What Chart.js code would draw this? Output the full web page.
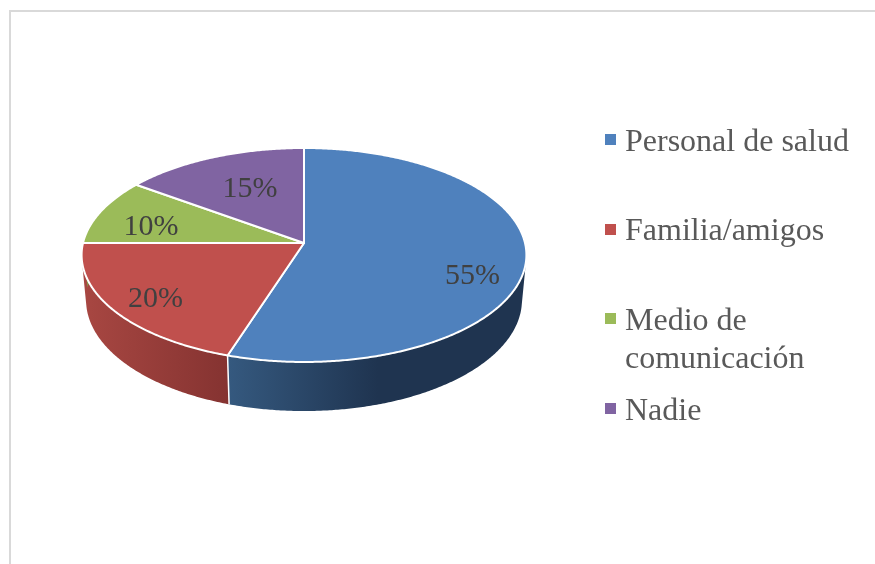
<!DOCTYPE html>
<html lang="es">
<head>
<meta charset="utf-8">
<title>Personal de salud</title>
<script src="https://cdn.jsdelivr.net/npm/chart.js@4"></script>
<style>
    html, body { margin: 0; padding: 0; background: #fff; overflow: hidden; }
    #frame { position: absolute; left: 9px; top: 10px; right: 0; bottom: 0; border-top: 2px solid #d9d9d9; border-left: 2px solid #d9d9d9; }
    #chart { position: absolute; left: 0; top: 0; }
</style>
</head>
<body>
<div id="frame"></div>
<canvas id="chart" width="875" height="564"></canvas>
<script>
const categories = ['Personal de salud', 'Familia/amigos', 'Medio de comunicación', 'Nadie'];
const shares = [55, 20, 10, 15];
const shareLabels = ['55%', '20%', '10%', '15%'];

const sliceColors = ['#4f81bd', '#c0504d', '#9bbb59', '#8064a2'];
const wallLeftColors = ['#35597f', '#a84742', '#7d9647', '#675083'];
const wallRightColors = ['#1f3450', '#853331', '#5f7236', '#4d3c62'];

// label spots, relative to the pie centre
const labelOffsets = [[168.5, 41], [-148.5, 64], [-153, -8], [-54, -46]];

// the pie is seen in perspective, so the circle from Chart.js gets projected
const tilt = 0.112;
const topFace = { sx: 1, sy: 0.478, dy: 0 };
const bottomFace = { sx: 0.98, sy: 0.496, dy: 44.6 };

const project = (arc, angle, face) => {
    const u = Math.cos(angle);
    const v = Math.sin(angle);
    const w = 1 - tilt * v;
    return {
        x: arc.x + arc.outerRadius * face.sx * u / w,
        y: arc.y + face.dy + arc.outerRadius * face.sy * v / w
    };
};

const STEP = Math.PI / 360;

const drawWall = (ctx, arc, i) => {
    const gradient = ctx.createLinearGradient(i === 0 ? 228 : 82, 0, i === 0 ? 378 : 228, 0);
    gradient.addColorStop(0, wallLeftColors[i]);
    gradient.addColorStop(1, wallRightColors[i]);
    ctx.fillStyle = gradient;

    // all quads go in one path, wound the same way, so no seams show
    ctx.beginPath();
    for (let a = arc.startAngle; a < arc.endAngle; a += STEP) {
        const b = Math.min(a + STEP, arc.endAngle);
        const quad = [
            project(arc, a, topFace),
            project(arc, b, topFace),
            project(arc, b, bottomFace),
            project(arc, a, bottomFace)
        ];
        let area = 0;
        quad.forEach((p, n) => {
            const q = quad[(n + 1) % 4];
            area += p.x * q.y - q.x * p.y;
        });
        if (area < 0) quad.reverse();
        ctx.moveTo(quad[0].x, quad[0].y);
        quad.slice(1).forEach(p => ctx.lineTo(p.x, p.y));
        ctx.closePath();
    }
    ctx.fill('nonzero');
};

const drawTop = (ctx, arc, i) => {
    ctx.beginPath();
    ctx.moveTo(arc.x, arc.y);
    for (let a = arc.startAngle; a < arc.endAngle; a += STEP) {
        const p = project(arc, a, topFace);
        ctx.lineTo(p.x, p.y);
    }
    const end = project(arc, arc.endAngle, topFace);
    ctx.lineTo(end.x, end.y);
    ctx.closePath();
    ctx.fillStyle = sliceColors[i];
    ctx.fill();
    ctx.strokeStyle = '#fff';
    ctx.lineWidth = 2;
    ctx.lineJoin = 'round';
    ctx.stroke();
};

const perspectivePie = {
    id: 'perspectivePie',
    beforeDatasetDraw(chart, args) {
        const ctx = chart.ctx;
        const arcs = chart.getDatasetMeta(args.index).data;
        ctx.save();
        arcs.forEach((arc, i) => drawWall(ctx, arc, i));

        // white seam between the walls that face the viewer
        arcs.forEach(arc => {
            if (Math.sin(arc.startAngle) > 0.1) {
                const p = project(arc, arc.startAngle, topFace);
                const q = project(arc, arc.startAngle, bottomFace);
                ctx.beginPath();
                ctx.moveTo(p.x, p.y);
                ctx.lineTo(q.x, q.y);
                ctx.strokeStyle = '#fff';
                ctx.lineWidth = 1.5;
                ctx.stroke();
            }
        });

        arcs.forEach((arc, i) => drawTop(ctx, arc, i));

        ctx.font = '30px "Liberation Serif"';
        ctx.fillStyle = '#404040';
        ctx.textAlign = 'center';
        ctx.textBaseline = 'alphabetic';
        arcs.forEach((arc, i) => {
            ctx.fillText(shareLabels[i], arc.x + labelOffsets[i][0], arc.y + labelOffsets[i][1]);
        });
        ctx.restore();
        return false;
    }
};

// Word style legend: even rows, long names wrap into the gap below
const wordLegend = {
    id: 'wordLegend',
    afterDraw(chart) {
        const ctx = chart.ctx;
        ctx.save();
        ctx.font = '32px "Liberation Serif"';
        ctx.textAlign = 'left';
        ctx.textBaseline = 'alphabetic';
        categories.forEach((name, i) => {
            const baseline = 150.5 + i * 89.7;
            ctx.fillStyle = sliceColors[i];
            ctx.fillRect(605, Math.round(134 + i * 89.5), 11, 11);

            const lines = [];
            let line = '';
            name.split(' ').forEach(word => {
                const next = line ? line + ' ' + word : word;
                if (ctx.measureText(next).width > 235) {
                    lines.push(line);
                    line = word;
                } else {
                    line = next;
                }
            });
            lines.push(line);

            ctx.fillStyle = '#595959';
            lines.forEach((text, n) => ctx.fillText(text, 625, baseline + n * 38));
        });
        ctx.restore();
    }
};

new Chart(document.getElementById('chart').getContext('2d'), {
    type: 'pie',
    data: {
        labels: categories,
        datasets: [{
            data: shares,
            backgroundColor: sliceColors,
            borderWidth: 0
        }]
    },
    options: {
        responsive: false,
        animation: false,
        layout: { padding: { left: 83, right: 350, top: 22, bottom: 100 } },
        plugins: {
            legend: { display: false },
            tooltip: { enabled: false }
        }
    },
    plugins: [perspectivePie, wordLegend]
});
</script>
</body>
</html>
